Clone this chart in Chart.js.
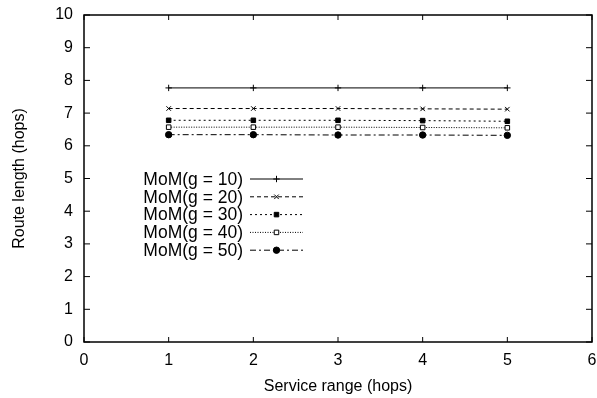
<!DOCTYPE html>
<html>
<head>
<meta charset="utf-8">
<title>Route length vs service range</title>
<script src="https://cdn.jsdelivr.net/npm/chart.js"></script>
<style>
  html, body { margin: 0; padding: 0; background: #fff; }
  #wrap { width: 597px; height: 398px; position: relative; }
</style>
</head>
<body>
<div id="wrap"><canvas id="chart"></canvas></div>
<script>
// data
const serviceRange = [1, 2, 3, 4, 5];
const seriesNames = ['MoM(g = 10)', 'MoM(g = 20)', 'MoM(g = 30)', 'MoM(g = 40)', 'MoM(g = 50)'];
const g10 = [7.77, 7.77, 7.77, 7.77, 7.77];
const g20 = [7.14, 7.14, 7.14, 7.13, 7.12];
const g30 = [6.78, 6.78, 6.78, 6.77, 6.75];
const g40 = [6.57, 6.57, 6.57, 6.56, 6.55];
const g50 = [6.34, 6.34, 6.33, 6.33, 6.32];
const xTicks = [0, 1, 2, 3, 4, 5, 6];
const yTicks = [0, 1, 2, 3, 4, 5, 6, 7, 8, 9, 10];

const FONT = '"Liberation Sans", Arial, sans-serif';
const styles = [
    { dash: [], point: 'cross', fill: '#000' },
    { dash: [4, 3], point: 'crossRot', fill: '#000' },
    { dash: [2, 3], point: 'rect', fill: '#000' },
    { dash: [1, 1.5], point: 'rect', fill: '#fff' },
    { dash: [6, 3, 2, 3], point: 'circle', fill: '#000' }
];
const values = [g10, g20, g30, g40, g50];

const datasets = values.map((v, i) => ({
    label: seriesNames[i],
    data: serviceRange.map((x, j) => ({ x: x, y: v[j] })),
    borderColor: '#000',
    borderWidth: 1,
    borderDash: styles[i].dash,
    pointStyle: styles[i].point,
    pointRadius: 3.2,
    pointBorderWidth: 1,
    pointBackgroundColor: styles[i].fill,
    pointBorderColor: '#000',
    fill: false,
    tension: 0
}));

// gnuplot style frame, inward ticks and the text legend on the right of its label
const framePlugin = {
    id: 'frame',
    afterDatasetsDraw(chart) {
        const { ctx, chartArea: a, scales } = chart;
        ctx.save();
        ctx.strokeStyle = '#000';
        ctx.lineWidth = 1.5;
        ctx.setLineDash([]);
        ctx.strokeRect(a.left, a.top, a.right - a.left, a.bottom - a.top);
        ctx.lineWidth = 1;
        ctx.beginPath();
        xTicks.forEach(t => {
            const px = scales.x.getPixelForValue(t);
            ctx.moveTo(px, a.bottom); ctx.lineTo(px, a.bottom - 5);
            ctx.moveTo(px, a.top); ctx.lineTo(px, a.top + 5);
        });
        yTicks.forEach(t => {
            const py = scales.y.getPixelForValue(t);
            ctx.moveTo(a.left, py); ctx.lineTo(a.left + 6, py);
            ctx.moveTo(a.right, py); ctx.lineTo(a.right - 6, py);
        });
        ctx.stroke();

        // legend
        ctx.font = '17.5px ' + FONT;
        ctx.textAlign = 'right';
        ctx.textBaseline = 'middle';
        const textRight = 243, lx0 = 250, lx1 = 303, y0 = 179, dy = 17.8;
        chart.data.datasets.forEach((ds, i) => {
            const y = y0 + i * dy;
            ctx.fillStyle = '#000';
            ctx.fillText(ds.label, textRight, y + 1);
            ctx.beginPath();
            ctx.setLineDash(ds.borderDash);
            ctx.lineWidth = 1;
            ctx.strokeStyle = '#000';
            ctx.moveTo(lx0, y); ctx.lineTo(lx1, y);
            ctx.stroke();
            ctx.setLineDash([]);
            ctx.fillStyle = ds.pointBackgroundColor;
            Chart.helpers.drawPoint(ctx, {
                pointStyle: ds.pointStyle, radius: 3.2, borderWidth: 1, rotation: 0
            }, (lx0 + lx1) / 2, y);
        });
        ctx.restore();
    }
};

new Chart(document.getElementById('chart').getContext('2d'), {
    type: 'line',
    data: { datasets: datasets },
    options: {
        responsive: true,
        maintainAspectRatio: false,
        animation: false,
        layout: { padding: { top: 15, right: 5, left: 0, bottom: 0 } },
        plugins: { legend: { display: false }, tooltip: { enabled: false } },
        scales: {
            x: {
                type: 'linear',
                min: 0, max: 6,
                afterBuildTicks: s => { s.ticks = xTicks.map(v => ({ value: v })); },
                afterFit: s => { s.height = 56; s.paddingLeft = 0; s.paddingRight = 0; },
                grid: { display: false, drawTicks: false },
                border: { display: false },
                ticks: { color: '#000', font: { family: FONT, size: 16 }, padding: 9, maxRotation: 0 },
                title: { display: true, text: 'Service range (hops)', color: '#000', font: { family: FONT, size: 16 }, padding: { top: 2, bottom: 2 } }
            },
            y: {
                type: 'linear',
                min: 0, max: 10,
                afterBuildTicks: s => { s.ticks = yTicks.map(v => ({ value: v })); },
                afterFit: s => { s.width = 84; s.paddingTop = 0; s.paddingBottom = 0; },
                grid: { display: false, drawTicks: false },
                border: { display: false },
                ticks: { color: '#000', font: { family: FONT, size: 16 }, padding: 11 },
                title: { display: true, text: 'Route length (hops)', color: '#000', font: { family: FONT, size: 16 }, padding: { top: 10, bottom: 0 } }
            }
        }
    },
    plugins: [framePlugin]
});
</script>
</body>
</html>
